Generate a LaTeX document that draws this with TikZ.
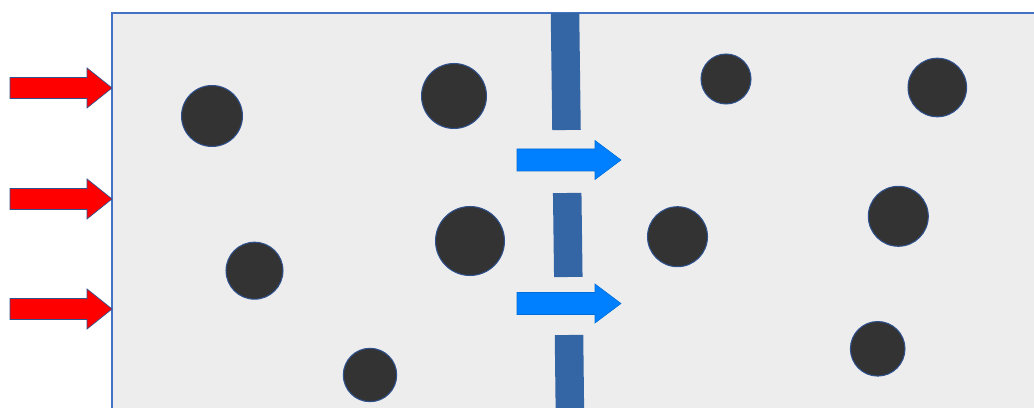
\documentclass[tikz,border=0pt]{standalone}
\usetikzlibrary{arrows.meta, positioning, calc}
\definecolor{tankGray}{HTML}{EDEDED}
\definecolor{tankLine}{HTML}{4472C4}
\definecolor{wallBlue}{HTML}{3465A4}
\definecolor{flowBlue}{HTML}{0080FF}
\definecolor{pushRed}{HTML}{FF0000}
\definecolor{edgeBlue}{HTML}{2F528F}
\definecolor{dotDark}{HTML}{333333}
\tikzset{
  tank/.style={draw=tankLine, fill=tankGray, line width=0.6pt},
  wall/.style={draw=wallBlue, line width=0.57cm},
  pushArrow/.style={fill=pushRed, draw=edgeBlue, line width=0.4pt},
  flowArrow/.style={fill=flowBlue, draw=flowBlue!85!black, line width=0.3pt},
  particle/.style={circle, fill=dotDark, draw=edgeBlue, line width=0.6pt, inner sep=0pt},
}

\begin{document}
\begin{tikzpicture}[x=0.02cm, y=-0.02cm]
  \clip (0,0) rectangle (1034,408);
  \fill[white] (0,0) rectangle (1034,408);
  \draw[tank] (112,13) rectangle (1045,420);
  % membrane with two openings
  \draw[wall] (565,13) -- (566.5,130);
  \draw[wall] (567.2,193) -- (568.3,277);
  \draw[wall] (569,335) -- (570,420);
  % pressure on the left side
  \foreach \y in {88,199,309}
    \draw[pushArrow] (10,\y-10.5) -- (87,\y-10.5) -- (87,\y-20) -- (112,\y)
      -- (87,\y+20) -- (87,\y+10.5) -- (10,\y+10.5) -- cycle;
  % flow through the openings
  \foreach \y in {160,303.5}
    \draw[flowArrow] (517,\y-11) -- (595,\y-11) -- (595,\y-19.5) -- (621,\y)
      -- (595,\y+19.5) -- (595,\y+11) -- (517,\y+11) -- cycle;
  % particles
  \foreach \x/\y/\r [count=\i] in {212/116/30.5, 254.5/270.7/28.5, 454/96/32.5,
      470/241/34.5, 370/375/26.7, 726/79/25, 937.3/87.5/29.3,
      677.5/236.7/30, 898.3/216.3/30, 877.7/348.8/27.3}
    \node[particle, minimum size=\r*0.04cm] (p\i) at (\x,\y) {};
\end{tikzpicture}
\end{document}
